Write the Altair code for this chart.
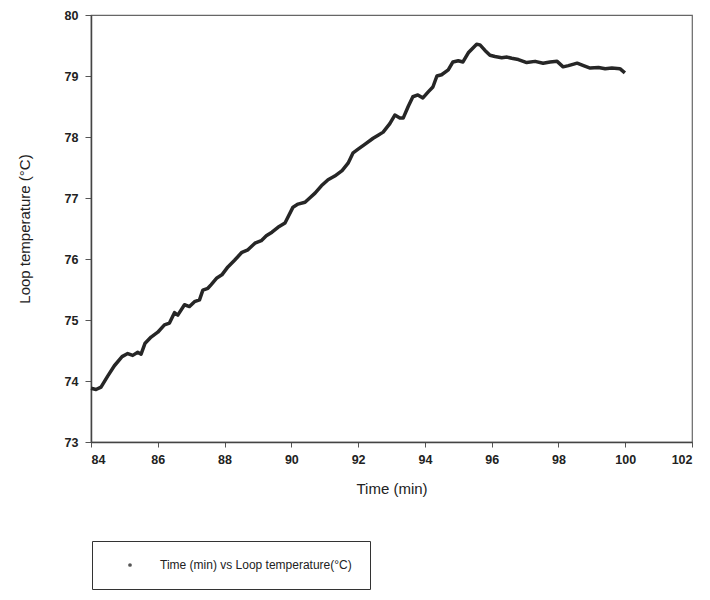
import altair as alt
import pandas as pd

time_min = [84.0, 84.15, 84.3, 84.5, 84.7, 84.93, 85.1, 85.25, 85.4, 85.5, 85.62, 85.8, 86.0,
            86.2, 86.35, 86.5, 86.6, 86.8, 86.95, 87.1, 87.25, 87.35, 87.5, 87.6, 87.77, 87.92,
            88.1, 88.3, 88.52, 88.7, 88.91, 89.1, 89.25, 89.42, 89.6, 89.81, 90.05, 90.2, 90.41,
            90.55, 90.71, 90.9, 91.1, 91.3, 91.52, 91.7, 91.85, 92.0, 92.2, 92.45, 92.6, 92.75,
            92.95, 93.1, 93.25, 93.35, 93.5, 93.64, 93.79, 93.94, 94.1, 94.24, 94.36, 94.5, 94.7,
            94.84, 95.0, 95.14, 95.3, 95.44, 95.55, 95.65, 95.8, 95.95, 96.1, 96.3, 96.46, 96.6,
            96.8, 97.05, 97.3, 97.54, 97.75, 97.96, 98.14, 98.3, 98.56, 98.75, 98.95, 99.2, 99.4,
            99.6, 99.84, 99.99]
loop_temp = [73.88, 73.86, 73.90, 74.08, 74.25, 74.40, 74.45, 74.42, 74.47, 74.44, 74.62, 74.72, 74.80,
             74.92, 74.95, 75.12, 75.08, 75.25, 75.22, 75.30, 75.33, 75.49, 75.52, 75.58, 75.69, 75.74,
             75.87, 75.98, 76.11, 76.15, 76.26, 76.30, 76.38, 76.44, 76.52, 76.59, 76.85, 76.90, 76.93,
             77.00, 77.08, 77.20, 77.30, 77.36, 77.45, 77.57, 77.74, 77.80, 77.88, 77.98, 78.03, 78.08,
             78.22, 78.36, 78.31, 78.31, 78.50, 78.66, 78.69, 78.64, 78.74, 78.82, 79.00, 79.02, 79.10,
             79.23, 79.25, 79.23, 79.38, 79.46, 79.52, 79.51, 79.42, 79.34, 79.32, 79.30, 79.31, 79.29,
             79.27, 79.22, 79.24, 79.21, 79.23, 79.24, 79.15, 79.17, 79.21, 79.17, 79.13, 79.14, 79.12,
             79.13, 79.12, 79.05]
series_name = "Time (min) vs Loop temperature(°C)"
x_ticks = [84, 86, 88, 90, 92, 94, 96, 98, 100, 102]
y_ticks = [73, 74, 75, 76, 77, 78, 79, 80]

df = pd.DataFrame({"t": time_min, "temp": loop_temp, "series": series_name})

FONT = "Liberation Sans"

chart = alt.Chart(df).mark_line(strokeWidth=3.5, strokeJoin="round").encode(
    x=alt.X("t:Q", scale=alt.Scale(domain=[84, 102], nice=False, zero=False),
            axis=alt.Axis(title="Time (min)", values=x_ticks, grid=False, tickSize=5,
                          labelPadding=6, titlePadding=16)),
    y=alt.Y("temp:Q", scale=alt.Scale(domain=[73, 80], nice=False, zero=False),
            axis=alt.Axis(title="Loop temperature (°C)", values=y_ticks, grid=False, tickSize=6,
                          labelPadding=7, titlePadding=32)),
    color=alt.Color("series:N", scale=alt.Scale(range=["#262626"]),
                    legend=alt.Legend(title=None, orient="none", legendX=1, legendY=526,
                                      symbolType="circle", symbolSize=14,
                                      symbolFillColor="#555", symbolStrokeColor="#555",
                                      symbolStrokeWidth=0, symbolOffset=14, labelOffset=24,
                                      padding=18, labelLimit=0, strokeColor="#333", fillColor="white",
                                      labelFont=FONT, labelFontSize=12, labelColor="#222")),
    order="t:Q",
).properties(
    width=601, height=427,
    autosize=alt.AutoSizeParams(type="none"),
    padding={"left": 83, "top": 7, "right": 10, "bottom": 150},
).configure_view(
    stroke="#666", strokeWidth=1.2
).configure_axis(
    domainColor="#444", domainWidth=1.5, tickColor="#555",
    labelFont=FONT, labelFontSize=12.5, labelFontWeight="bold", labelColor="#222",
    titleFont=FONT, titleFontSize=15, titleFontWeight="normal", titleColor="#222",
)

chart.save("out.html", embed_options={"renderer": "svg", "actions": False})
